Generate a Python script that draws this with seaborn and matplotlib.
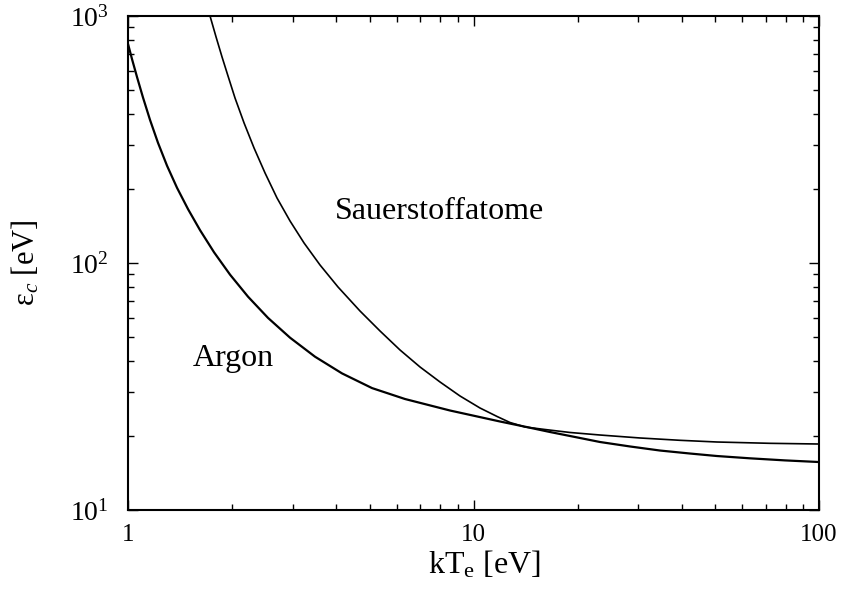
import matplotlib
matplotlib.use("Agg")
import matplotlib.pyplot as plt
import seaborn as sns
import pandas as pd
from matplotlib.ticker import LogLocator, LogFormatterMathtext, NullFormatter

# Electron temperature kT_e [eV] and collisional energy loss per created ion-electron pair [eV]
kte_argon = [1.000, 1.027, 1.062, 1.105, 1.158, 1.221, 1.297, 1.386, 1.492, 1.616,
             1.774, 1.974, 2.225, 2.542, 2.944, 3.477, 4.163, 5.084, 6.335, 8.551,
             10.10, 11.93, 14.10, 16.65, 19.67, 23.23, 28.38, 34.65, 42.33, 50.67,
             63.14, 79.71, 100.0]
eps_argon = [770.3, 668.5, 565.2, 467.4, 379.3, 306.6, 247.5, 201.6, 165.1, 135.8,
             110.5, 89.67, 73.04, 59.94, 49.84, 41.75, 35.73, 31.16, 28.14, 25.28,
             24.02, 22.82, 21.74, 20.69, 19.75, 18.85, 18.08, 17.41, 16.93, 16.54,
             16.19, 15.88, 15.64]

kte_oxygen = [1.727, 1.798, 1.871, 1.947, 2.040, 2.167, 2.316, 2.492, 2.699, 2.944,
              3.232, 3.595, 4.053, 4.694, 5.363, 6.127, 7.001, 7.999, 9.140, 10.44,
              11.70, 12.75, 14.10, 16.10, 19.02, 23.23, 30.33, 39.60, 50.67, 72.14,
              100.0]
eps_oxygen = [1000, 822.2, 682.4, 571.6, 465.6, 368.8, 292.1, 231.4, 183.3, 147.9,
              120.5, 98.15, 79.95, 63.9, 53.05, 44.44, 37.93, 32.98, 28.94, 25.88,
              23.91, 22.61, 21.68, 21.18, 20.60, 20.12, 19.57, 19.15, 18.85, 18.62,
              18.50]

gases = ["Argon", "Sauerstoffatome"]

df = pd.concat([
    pd.DataFrame({"kTe": kte_argon, "eps": eps_argon, "gas": gases[0]}),
    pd.DataFrame({"kTe": kte_oxygen, "eps": eps_oxygen, "gas": gases[1]}),
], ignore_index=True)

sns.set_style("ticks")
plt.rcParams["font.family"] = ["Liberation Serif", "DejaVu Serif"]
plt.rcParams["mathtext.fontset"] = "custom"
plt.rcParams["mathtext.rm"] = "Liberation Serif"
plt.rcParams["mathtext.it"] = "Liberation Serif:italic"
plt.rcParams["mathtext.bf"] = "Liberation Serif:bold"
for key in ["text.color", "axes.labelcolor", "xtick.color", "ytick.color",
            "axes.edgecolor"]:
    plt.rcParams[key] = "black"

fig = plt.figure(figsize=(8.44, 5.92), dpi=100)
ax = fig.add_axes([0.1517, 0.1385, 0.8187, 0.8345])

widths = {"Argon": 1.6, "Sauerstoffatome": 1.2}
for gas in gases:
    sns.lineplot(data=df[df["gas"] == gas], x="kTe", y="eps", color="black",
                 linewidth=widths[gas], estimator=None, sort=False, ax=ax,
                 legend=False)

ax.set_xscale("log")
ax.set_yscale("log")
ax.set_xlim(1, 100)
ax.set_ylim(10, 1000)

ax.xaxis.set_major_locator(LogLocator(base=10))
ax.xaxis.set_major_formatter(plt.FuncFormatter(lambda v, p: f"{v:g}"))
ax.yaxis.set_major_locator(LogLocator(base=10))
ax.yaxis.set_major_formatter(LogFormatterMathtext())
ax.xaxis.set_minor_locator(LogLocator(base=10, subs=range(2, 10)))
ax.yaxis.set_minor_locator(LogLocator(base=10, subs=range(2, 10)))
ax.xaxis.set_minor_formatter(NullFormatter())
ax.yaxis.set_minor_formatter(NullFormatter())

ax.tick_params(which="both", direction="in", top=True, right=True, width=1.0)
ax.tick_params(which="major", length=7)
ax.tick_params(which="minor", length=4)
ax.tick_params(axis="x", which="major", labelsize=18, pad=10)
ax.tick_params(axis="y", which="major", labelsize=20, pad=14)

for spine in ax.spines.values():
    spine.set_linewidth(1.5)

ax.set_xlabel(r"kT$_\mathrm{e}$ [eV]", fontsize=23)
ax.xaxis.set_label_coords(0.515, -0.078)
ax.set_ylabel("ε$_c$ [eV]", fontsize=22, labelpad=20)

ax.text(3.97, 161, "Sauerstoffatome", fontsize=23, ha="left", va="center")
ax.text(1.54, 41.2, "Argon", fontsize=23, ha="left", va="center")

fig.savefig("out.png", dpi=100, facecolor="white")
